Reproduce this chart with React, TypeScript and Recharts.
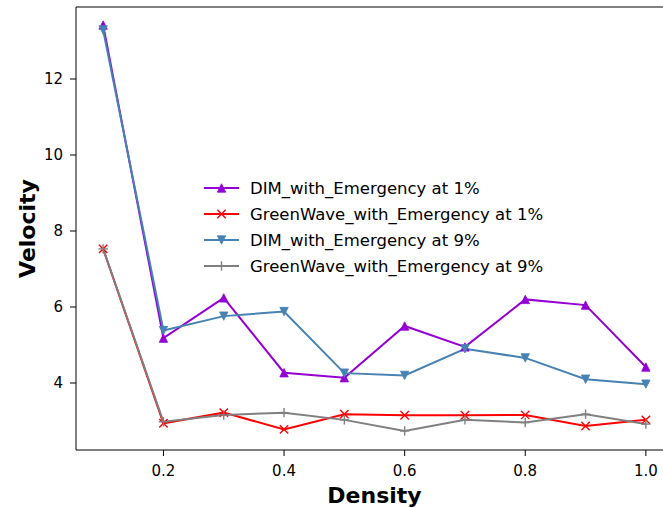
import { LineChart, Line, XAxis, YAxis, Legend, ReferenceLine } from 'recharts'

const density = [0.1, 0.2, 0.3, 0.4, 0.5, 0.6, 0.7, 0.8, 0.9, 1.0]
const dim1 = [13.42, 5.18, 6.24, 4.27, 4.14, 5.5, 4.95, 6.2, 6.05, 4.42]
const greenWave1 = [7.53, 2.94, 3.22, 2.78, 3.18, 3.15, 3.15, 3.16, 2.87, 3.03]
const dim9 = [13.29, 5.38, 5.76, 5.88, 4.26, 4.2, 4.9, 4.66, 4.1, 3.97]
const greenWave9 = [7.53, 2.98, 3.16, 3.22, 3.03, 2.74, 3.03, 2.96, 3.18, 2.92]
const xTicks = [0.2, 0.4, 0.6, 0.8, 1.0]
const yTicks = [4, 6, 8, 10, 12]

const SERIES = [
  { key: 'dim1', name: 'DIM_with_Emergency at 1%', color: '#9400d3', marker: 'up' },
  { key: 'gw1', name: 'GreenWave_with_Emergency at 1%', color: '#ff0000', marker: 'x' },
  { key: 'dim9', name: 'DIM_with_Emergency at 9%', color: '#4682b4', marker: 'down' },
  { key: 'gw9', name: 'GreenWave_with_Emergency at 9%', color: '#808080', marker: 'plus' },
]

const data = density.map((d, i) => ({
  density: d,
  dim1: dim1[i],
  gw1: greenWave1[i],
  dim9: dim9[i],
  gw9: greenWave9[i],
}))

const FONT = '"DejaVu Sans", sans-serif'
const Y_MIN = 2.237
const Y_MAX = 13.895

function Marker({ cx, cy, kind, color }: { cx: number; cy: number; kind: string; color: string }) {
  const s = 4.2
  if (kind === 'up') {
    return <polygon points={`${cx},${cy - s} ${cx - s},${cy + s} ${cx + s},${cy + s}`} fill={color} stroke={color} strokeWidth={0.8} />
  }
  if (kind === 'down') {
    return <polygon points={`${cx},${cy + s} ${cx - s},${cy - s} ${cx + s},${cy - s}`} fill={color} stroke={color} strokeWidth={0.8} />
  }
  if (kind === 'x') {
    return (
      <g stroke={color} strokeWidth={1.4}>
        <line x1={cx - s} y1={cy - s} x2={cx + s} y2={cy + s} />
        <line x1={cx - s} y1={cy + s} x2={cx + s} y2={cy - s} />
      </g>
    )
  }
  return (
    <g stroke={color} strokeWidth={1.4}>
      <line x1={cx - s - 0.5} y1={cy} x2={cx + s + 0.5} y2={cy} />
      <line x1={cx} y1={cy - s - 0.5} x2={cx} y2={cy + s + 0.5} />
    </g>
  )
}

const renderLegend = () => (
  <div style={{ fontFamily: FONT, fontSize: 16.5, color: '#000' }}>
    {SERIES.map((s) => (
      <div key={s.key} style={{ display: 'flex', alignItems: 'center', height: 26 }}>
        <svg width={48} height={26}>
          <line x1={2} y1={13} x2={37} y2={13} stroke={s.color} strokeWidth={2} />
          <Marker cx={19.5} cy={13} kind={s.marker} color={s.color} />
        </svg>
        <span style={{ whiteSpace: 'nowrap' }}>{s.name}</span>
      </div>
    ))}
  </div>
)

export default function App() {
  return (
    <div style={{ position: 'absolute', left: 0, top: 0, width: 663, height: 508, overflow: 'hidden', background: '#fff' }}>
      <LineChart width={680} height={508} data={data} margin={{ top: 7, right: 7, left: 0, bottom: 0 }}>
        <XAxis
          dataKey="density"
          type="number"
          domain={[0.055, 1.045]}
          ticks={xTicks}
          tickFormatter={(v: number) => v.toFixed(1)}
          height={58}
          stroke="#000"
          tickSize={6}
          tickMargin={9}
          tick={{ fill: '#000', fontSize: 15, fontFamily: FONT }}
          allowDataOverflow
          label={{ value: 'Density', position: 'insideBottom', offset: 5, fill: '#000', fontSize: 22, fontWeight: 'bold', fontFamily: FONT }}
        />
        <YAxis
          type="number"
          domain={[Y_MIN, Y_MAX]}
          ticks={yTicks}
          width={76}
          stroke="#000"
          tickSize={6}
          tickMargin={7}
          allowDataOverflow
          tick={{ fill: '#000', fontSize: 15, fontFamily: FONT }}
          label={{
            content: () => (
              <text x={27} y={228.5} transform="rotate(-90 27 228.5)" textAnchor="middle" dominantBaseline="central" fontSize={22} fontWeight="bold" fontFamily={FONT} fill="#000">
                Velocity
              </text>
            ),
          }}
        />
        <ReferenceLine y={Y_MAX} stroke="#000" strokeWidth={1} ifOverflow="visible" />
        <Legend
          content={renderLegend}
          layout="vertical"
          verticalAlign="middle"
          align="center"
          wrapperStyle={{ position: 'absolute', left: 202, top: 175, width: 360 }}
        />
        {SERIES.map((s) => (
          <Line
            key={s.key}
            dataKey={s.key}
            name={s.name}
            stroke={s.color}
            strokeWidth={2}
            isAnimationActive={false}
            dot={(p: any) => <Marker key={`${s.key}-${p.index}`} cx={p.cx} cy={p.cy} kind={s.marker} color={s.color} />}
            activeDot={false}
          />
        ))}
      </LineChart>
    </div>
  )
}
